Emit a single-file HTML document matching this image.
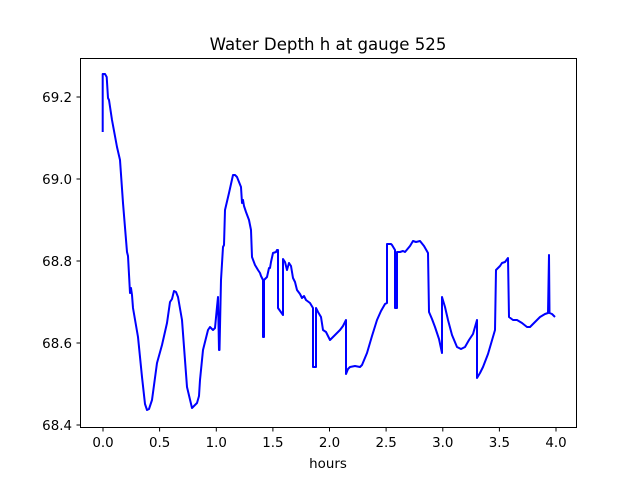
<!DOCTYPE html>
<html><head><style>body{margin:0;background:#fff}svg{display:block}</style></head><body>
<svg width="640" height="480" viewBox="0 0 640 480" xmlns="http://www.w3.org/2000/svg" font-family="'DejaVu Sans', 'Liberation Sans', sans-serif">
<rect width="640" height="480" fill="#fff"/>
<polyline fill="none" stroke="#0000ff" stroke-width="2" stroke-linejoin="round" points="
102.7,132 102.7,74 105,74 106.7,77 108,98 109,100 112,120 117,147 120,160 123,203 127,252 128,256 130,293 131,288 132,295 133,308 138,337 142,377 145,404 147,410 149,409 152,400 157,363 162,345 167,323 170,302 172,299 174,291 176,292 178,297 182,320 187,387 192,408 197,403 199,396 200,380 203,350 208,330 210,327 213,330 215,328 217,307 218,297 219,350 219.5,350 221,280 223,247 224,245 225,210 229,193 233,175 235,175 237,177 239,182 241,187 242,203 243,200 244,206 246,212 249,220 251,230 252,257 255,265 258,270 260,273 261,276 263,280 263,337 264,337 264,280 267,277 269,268 270,268 271,262 273,253 276,252 277,250 278,250 278,308 283,315 283,259 285,262 287,270 289,263 291,266 293,278 295,282 297,290 300,294 302,298 304,296 306,300 310,303 313,308 313,367 316,367 316,308 318,312 321,317 323,330 326,332 330,340 334,336 340,330 343,326 346,320 346,374 348,369 350,367 355,366 360,367 362,365 367,353 372,336 377,320 381,311 385,304 387,303 387,244 391,244 392,245 395,250 395,308 397,308 397,252 400,252 403,251 405,252 410,246 413,241 416,242 420,241 424,246 428,253 429,312 432,319 435,327 439,339 442,353 442,297 445,307 448,320 452,335 457,347 461,349 465,347 469,340 473,334 475,327 477,320 477,378 480,373 483,367 488,354 495,330 496,270 500,266 502,263 505,262 508,258 509,317 513,320 517,320 522,323 527,327 530,327 535,322 540,317 545,314 548,313 549,255 549.5,313 552,314 555,317"/>
<rect x="80.5" y="58.5" width="496" height="369" fill="none" stroke="#000" stroke-width="1"/>
<g stroke="#000" stroke-width="1">
<line x1="103" y1="428" x2="103" y2="431.5"/><line x1="159.6" y1="428" x2="159.6" y2="431.5"/><line x1="216.3" y1="428" x2="216.3" y2="431.5"/><line x1="272.9" y1="428" x2="272.9" y2="431.5"/><line x1="329.5" y1="428" x2="329.5" y2="431.5"/><line x1="386.1" y1="428" x2="386.1" y2="431.5"/><line x1="442.8" y1="428" x2="442.8" y2="431.5"/><line x1="499.4" y1="428" x2="499.4" y2="431.5"/><line x1="556" y1="428" x2="556" y2="431.5"/>
<line x1="76.5" y1="425" x2="80" y2="425"/><line x1="76.5" y1="343" x2="80" y2="343"/><line x1="76.5" y1="261" x2="80" y2="261"/><line x1="76.5" y1="179" x2="80" y2="179"/><line x1="76.5" y1="97" x2="80" y2="97"/>
</g>
<g font-size="13.4" fill="#000" text-anchor="middle">
<text x="103" y="447">0.0</text><text x="159.6" y="447">0.5</text><text x="216.3" y="447">1.0</text><text x="272.9" y="447">1.5</text><text x="329.5" y="447">2.0</text><text x="386.1" y="447">2.5</text><text x="442.8" y="447">3.0</text><text x="499.4" y="447">3.5</text><text x="556" y="447">4.0</text>
<text x="328" y="468">hours</text>
</g>
<g font-size="13.4" fill="#000" text-anchor="end">
<text x="72" y="430">68.4</text><text x="72" y="348">68.6</text><text x="72" y="266">68.8</text><text x="72" y="184">69.0</text><text x="72" y="102">69.2</text>
</g>
<text x="328" y="50" font-size="16.6" text-anchor="middle" fill="#000">Water Depth h at gauge 525</text>
</svg>
</body></html>
